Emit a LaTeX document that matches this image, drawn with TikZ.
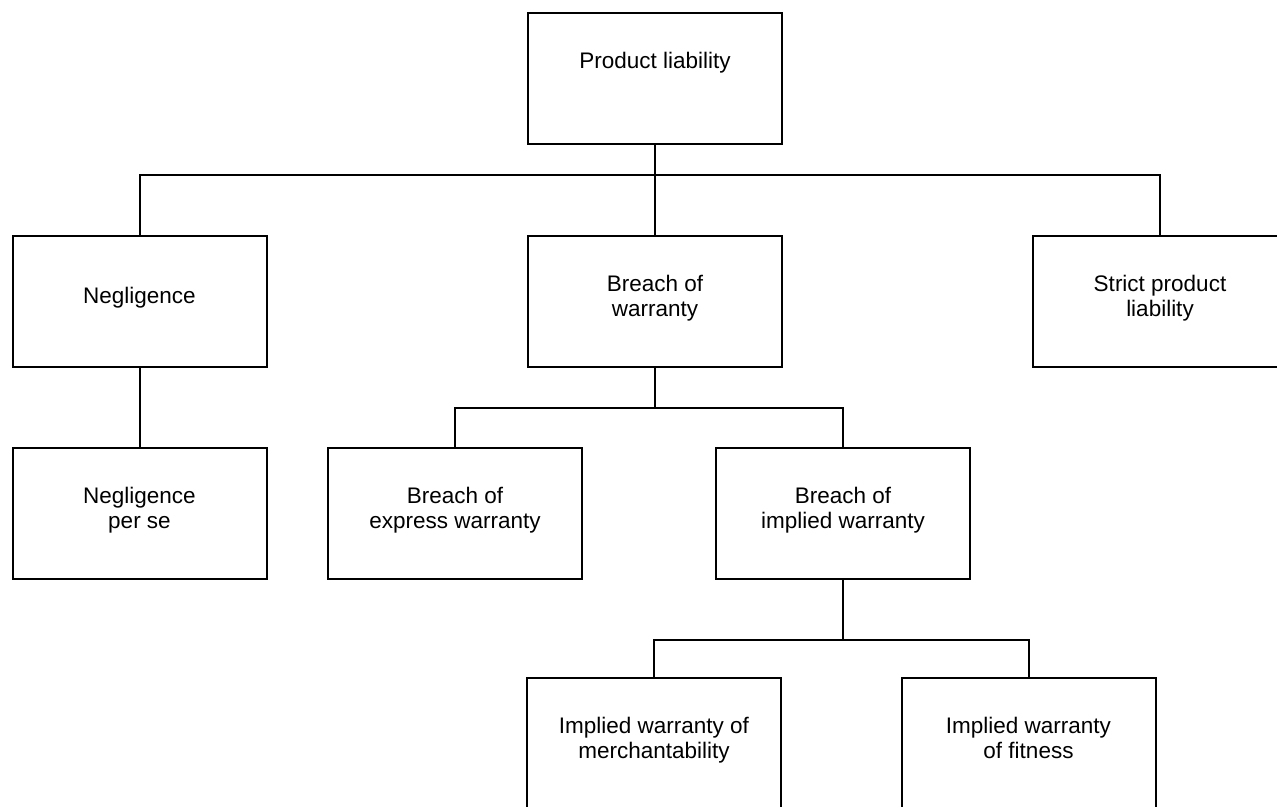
\documentclass[tikz,border=0pt]{standalone}
\usepackage{fontspec}
\setmainfont{Liberation Sans}
\usepackage{tikz}
\tikzstyle{box}=[rectangle,draw=black,line width=2pt,fill=white,
  minimum width=254pt,minimum height=131pt,inner sep=0pt,align=center,
  text depth=11pt,font=\fontsize{22.5}{25}\selectfont]
\tikzstyle{none}=[]
\begin{document}
\begin{tikzpicture}[x=1pt,y=-1pt,line width=2pt]
            \useasboundingbox (0,0) rectangle (1277,806);
            \clip (0,0) rectangle (1277,806);
            \node [style=box,text depth=36pt] (0) at (655, 78) {Product liability};
            \node [style=box] (1) at (139.5, 301) {Negligence};
            \node [style=box] (2) at (655, 301) {Breach of\\warranty};
            \node [style=box] (3) at (1160, 301) {Strict product\\liability};
            \node [style=box] (4) at (139.5, 513) {Negligence\\per se};
            \node [style=box] (5) at (455, 513) {Breach of\\express warranty};
            \node [style=box] (6) at (843, 513) {Breach of\\implied warranty};
            \node [style=box] (7) at (654, 743) {Implied warranty of\\merchantability};
            \node [style=box] (8) at (1028.5, 743) {Implied warranty\\of fitness};
            \node [style=none] (10) at (139.5, 175) {};
            \node [style=none] (12) at (1160, 175) {};
            \node [style=none] (13) at (455, 408) {};
            \node [style=none] (14) at (655, 408) {};
            \node [style=none] (15) at (843, 408) {};
            \node [style=none] (16) at (654, 640) {};
            \node [style=none] (17) at (843, 640) {};
            \node [style=none] (18) at (1028.5, 640) {};
            \draw (0) to (2);
            \draw (1) to (10.center) to (12.center) to (3);
            \draw (1) to (4);
            \draw (2) to (14.center);
            \draw (5) to (13.center) to (15.center) to (6);
            \draw (6) to (17.center);
            \draw (7) to (16.center) to (18.center) to (8);
    \end{tikzpicture}
\end{document}
